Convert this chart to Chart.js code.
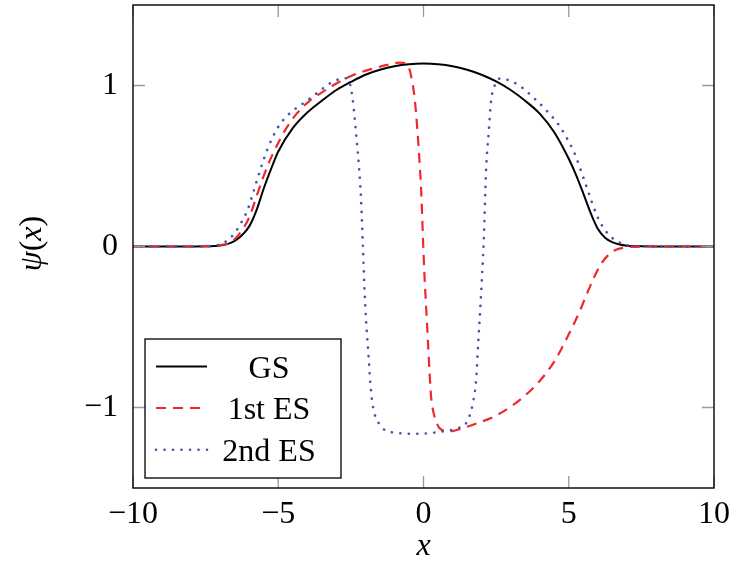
<!DOCTYPE html>
<html><head><meta charset="utf-8">
<script src="https://cdn.jsdelivr.net/npm/chart.js@4/dist/chart.umd.min.js"></script>
<style>html,body{margin:0;padding:0;background:#fff}#wrap{width:735px;height:571px}</style>
</head><body><div id="wrap"><canvas id="c" width="735" height="571"></canvas></div>
<script>
const xTicks = [-10, -5, 0, 5, 10];
const yTicks = [-1, 0, 1];
const seriesNames = ['GS', '1st ES', '2nd ES'];

const gsX = [-10,-8,-7.5,-7.0,-6.75,-6.5,-6.25,-6.0,-5.75,-5.5,-5.25,-5.0,-4.5,-4.0,-3.5,-3.0,-2.5,-2.0,-1.5,-1.0,-0.5,0,0.5,1.0,1.5,2.0,2.5,3.0,3.5,4.0,4.5,5.0,5.25,5.5,5.75,6.0,6.25,6.5,6.75,7.0,7.5,8,10];
const gsY = [0,0,0.001,0.006,0.015,0.035,0.07,0.125,0.225,0.36,0.48,0.59,0.735,0.832,0.905,0.972,1.022,1.067,1.098,1.12,1.132,1.136,1.132,1.12,1.098,1.067,1.025,0.972,0.905,0.825,0.71,0.545,0.445,0.33,0.21,0.11,0.055,0.027,0.012,0.005,0.001,0,0];

const es1X = [-10,-8,-7.2,-6.9,-6.68,-6.33,-5.99,-5.76,-5.53,-5.3,-5.01,-4.72,-4.38,-3.92,-3.64,-3.0,-2.43,-1.74,-1.2,-0.83,-0.65,-0.5,-0.42,-0.31,-0.2,-0.14,-0.08,-0.02,0.03,0.09,0.15,0.21,0.26,0.32,0.38,0.55,0.89,1.35,2.0,2.5,3.0,3.5,4.0,4.5,5.0,5.37,5.6,5.85,6.1,6.35,6.6,6.9,7.2,7.6,10];
const es1Y = [0,0,0.003,0.012,0.022,0.08,0.185,0.305,0.425,0.53,0.64,0.735,0.822,0.905,0.94,1.012,1.064,1.105,1.13,1.142,1.14,1.11,1.053,0.929,0.7,0.537,0.35,0.06,-0.166,-0.373,-0.58,-0.787,-0.93,-1.01,-1.056,-1.128,-1.149,-1.128,-1.088,-1.05,-0.995,-0.925,-0.835,-0.715,-0.545,-0.405,-0.305,-0.2,-0.112,-0.055,-0.022,-0.007,-0.002,0,0];

const es2X = [-10,-8,-7.3,-6.91,-6.56,-6.27,-6.04,-5.87,-5.7,-5.53,-5.36,-5.01,-4.61,-4.15,-3.69,-3.23,-2.9,-2.7,-2.55,-2.45,-2.37,-2.3,-2.22,-2.15,-2.09,-2.03,-1.97,-1.89,-1.83,-1.74,-1.54,-1.06,-0.2,0.66,1.18,1.47,1.7,1.81,1.89,1.99,2.07,2.16,2.24,2.33,2.45,2.62,3.19,3.88,4.22,4.62,4.91,5.2,5.48,5.71,5.94,6.17,6.51,6.97,7.4,8,10];
const es2Y = [0,0,0.003,0.02,0.07,0.15,0.235,0.33,0.43,0.525,0.61,0.74,0.826,0.888,0.95,1.012,1.04,1.045,1.02,0.93,0.8,0.66,0.495,0.29,0.02,-0.27,-0.476,-0.684,-0.849,-0.994,-1.097,-1.155,-1.163,-1.149,-1.128,-1.097,-0.973,-0.828,-0.58,-0.27,0.02,0.495,0.7,0.909,1.0,1.043,1.012,0.909,0.847,0.764,0.681,0.578,0.44,0.32,0.205,0.123,0.051,0.01,0.001,0,0];

const FONT = "'Liberation Serif', 'DejaVu Serif', serif";
function fmt(v){ return v < 0 ? '\u2212' + Math.abs(v) : String(v); }
function pts(xs, ys){ return xs.map((x, i) => ({x: x, y: ys[i]})); }

const framePlugin = {
  id: 'frame',
  afterDraw(chart){
    const {ctx, chartArea: a, scales: {x, y}} = chart;
    ctx.save();
    // inward ticks on all four sides
    ctx.strokeStyle = '#9a9a9a'; ctx.lineWidth = 1.3;
    const L = 12;
    ctx.beginPath();
    xTicks.forEach(v => { const px = x.getPixelForValue(v);
      ctx.moveTo(px, a.bottom); ctx.lineTo(px, a.bottom - L);
      ctx.moveTo(px, a.top); ctx.lineTo(px, a.top + L); });
    yTicks.forEach(v => { const py = y.getPixelForValue(v);
      ctx.moveTo(a.left, py); ctx.lineTo(a.left + L, py);
      ctx.moveTo(a.right, py); ctx.lineTo(a.right - L, py); });
    ctx.stroke();
    // frame
    ctx.strokeStyle = '#111'; ctx.lineWidth = 1.5;
    ctx.strokeRect(a.left, a.top, a.right - a.left, a.bottom - a.top);
    // legend
    const bx = a.left + 12, bw = 196, bh = 139, by = a.bottom - 10 - bh;
    ctx.fillStyle = '#fff';
    ctx.fillRect(bx, by, bw, bh);
    ctx.strokeStyle = '#111'; ctx.lineWidth = 1.4;
    ctx.strokeRect(bx, by, bw, bh);
    const rows = [27.5, 69, 110.7];
    chart.data.datasets.forEach((ds, i) => {
      const ry = by + rows[i];
      ctx.save();
      ctx.strokeStyle = ds.borderColor; ctx.lineWidth = ds.borderWidth;
      ctx.lineCap = ds.borderCapStyle || 'butt';
      ctx.setLineDash(ds.borderDash || []);
      ctx.beginPath(); ctx.moveTo(bx + 11, ry); ctx.lineTo(bx + 62, ry); ctx.stroke();
      ctx.restore();
      ctx.fillStyle = '#000';
      ctx.font = '32px ' + FONT;
      ctx.textAlign = 'center'; ctx.textBaseline = 'alphabetic';
      ctx.fillText(ds.label, bx + 124, ry + 11);
    });
    // y-axis title: italic psi and x, upright parentheses
    const parts = [['ψ', 'italic '], ['(', ''], ['x', 'italic '], [')', '']];
    let total = 0;
    parts.forEach(p => { ctx.font = p[1] + '32px ' + FONT; total += ctx.measureText(p[0]).width; });
    ctx.translate(33, (a.top + a.bottom) / 2 - 3);
    ctx.rotate(-Math.PI / 2);
    ctx.fillStyle = '#000'; ctx.textBaseline = 'middle'; ctx.textAlign = 'left';
    let cx = -total / 2;
    parts.forEach(p => { ctx.font = p[1] + '32px ' + FONT; ctx.fillText(p[0], cx, 0); cx += ctx.measureText(p[0]).width; });
    ctx.restore();
  }
};

new Chart(document.getElementById('c'), {
  type: 'line',
  data: {
    datasets: [
      {label: seriesNames[0], data: pts(gsX, gsY), borderColor: '#000', borderWidth: 2, pointRadius: 0, cubicInterpolationMode: 'monotone', order: 3},
      {label: seriesNames[1], data: pts(es1X, es1Y), borderColor: 'rgb(240,40,45)', borderWidth: 2.2, borderDash: [10, 7], pointRadius: 0, cubicInterpolationMode: 'monotone', order: 2},
      {label: seriesNames[2], data: pts(es2X, es2Y), borderColor: 'rgb(65,85,175)', borderWidth: 2.6, borderDash: [0.1, 8.4], borderCapStyle: 'round', pointRadius: 0, cubicInterpolationMode: 'monotone', order: 1}
    ]
  },
  options: {
    responsive: false, animation: false,
    layout: {padding: {top: 5, right: 21, left: 0, bottom: 0}},
    plugins: {legend: {display: false}, tooltip: {enabled: false}},
    scales: {
      x: {
        type: 'linear', min: -10, max: 10,
        afterBuildTicks: s => { s.ticks = xTicks.map(v => ({value: v})); },
        afterFit: s => { s.height = 83; s.paddingLeft = 0; s.paddingRight = 0; },
        grid: {display: false, drawTicks: false}, border: {display: false},
        ticks: {font: {family: FONT, size: 32}, color: '#000', padding: 7, callback: fmt, maxRotation: 0, autoSkip: false},
        title: {display: true, text: 'x', color: '#000', font: {family: FONT, size: 32, style: 'italic'}, padding: {top: 0, bottom: 5}}
      },
      y: {
        type: 'linear', min: -1.5, max: 1.5,
        afterBuildTicks: s => { s.ticks = yTicks.map(v => ({value: v})); },
        afterFit: s => { s.width = 133; s.paddingTop = 0; s.paddingBottom = 0; },
        grid: {display: false, drawTicks: false}, border: {display: false},
        ticks: {font: {family: FONT, size: 32}, color: '#000', padding: 15, callback: fmt, autoSkip: false},
        title: {display: false}
      }
    }
  },
  plugins: [framePlugin]
});
</script>
</body></html>
